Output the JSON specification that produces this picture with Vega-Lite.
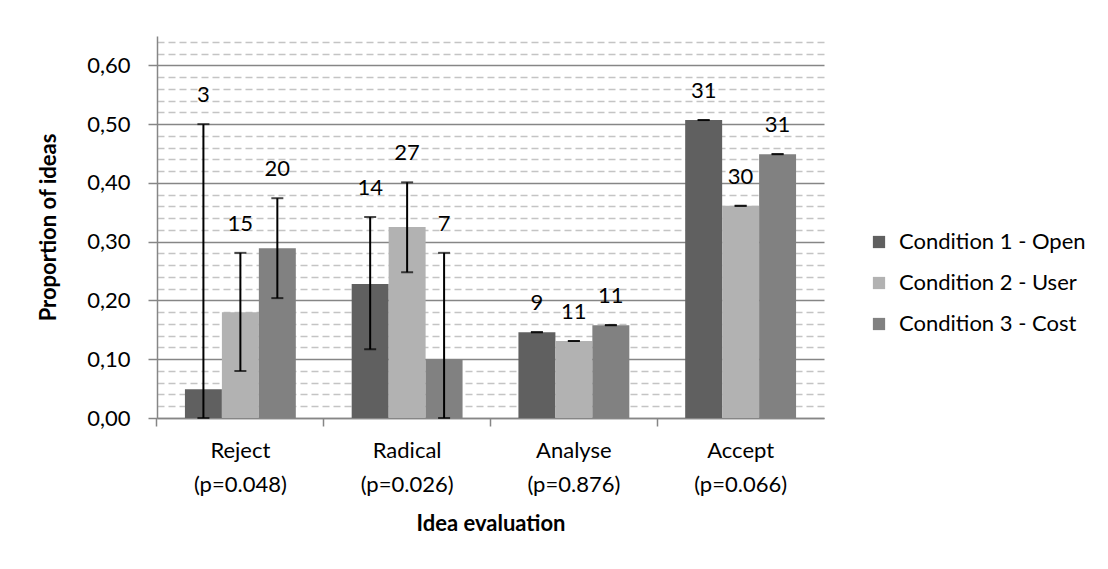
{
  "$schema": "https://vega.github.io/schema/vega-lite/v6.json",
  "autosize": {"type": "none"},
  "padding": {"left": 157, "top": 36, "right": 284, "bottom": 151},
  "width": 667,
  "height": 382,
  "background": "white",
  "config": {
    "view": {"stroke": null},
    "font": "Lato",
    "axis": {"labelFont": "Lato", "titleFont": "Lato", "labelColor": "#000000", "titleColor": "#000000", "labelFontSize": 22, "titleFontSize": 22, "titleFontWeight": "bold", "domainColor": "#868686", "tickColor": "#868686", "domainWidth": 1.5, "tickWidth": 1.5},
    "legend": {"labelFont": "Lato", "labelFontSize": 22, "labelColor": "#000000", "labelLimit": 400}
  },
  "data": {
    "values": [
      {"category": "Reject (p=0.048)", "condition": "Condition 1 - Open", "value": 0.049, "lo": 0.0, "hi": 0.5, "n": "3"},
      {"category": "Reject (p=0.048)", "condition": "Condition 2 - User", "value": 0.18, "lo": 0.08, "hi": 0.281, "n": "15"},
      {"category": "Reject (p=0.048)", "condition": "Condition 3 - Cost", "value": 0.289, "lo": 0.204, "hi": 0.374, "n": "20"},
      {"category": "Radical (p=0.026)", "condition": "Condition 1 - Open", "value": 0.228, "lo": 0.117, "hi": 0.342, "n": "14"},
      {"category": "Radical (p=0.026)", "condition": "Condition 2 - User", "value": 0.325, "lo": 0.248, "hi": 0.401, "n": "27"},
      {"category": "Radical (p=0.026)", "condition": "Condition 3 - Cost", "value": 0.1, "lo": 0.0, "hi": 0.281, "n": "7"},
      {"category": "Analyse (p=0.876)", "condition": "Condition 1 - Open", "value": 0.146, "lo": 0.146, "hi": 0.146, "n": "9"},
      {"category": "Analyse (p=0.876)", "condition": "Condition 2 - User", "value": 0.131, "lo": 0.131, "hi": 0.131, "n": "11"},
      {"category": "Analyse (p=0.876)", "condition": "Condition 3 - Cost", "value": 0.158, "lo": 0.158, "hi": 0.158, "n": "11"},
      {"category": "Accept (p=0.066)", "condition": "Condition 1 - Open", "value": 0.507, "lo": 0.507, "hi": 0.507, "n": "31"},
      {"category": "Accept (p=0.066)", "condition": "Condition 2 - User", "value": 0.361, "lo": 0.361, "hi": 0.361, "n": "30"},
      {"category": "Accept (p=0.066)", "condition": "Condition 3 - Cost", "value": 0.449, "lo": 0.449, "hi": 0.449, "n": "31"}
    ]
  },
  "encoding": {
    "x": {"field": "category", "type": "nominal", "sort": null, "axis": null,
          "scale": {"paddingInner": 0.335, "paddingOuter": 0.1675}},
    "xOffset": {"field": "condition", "type": "nominal", "sort": null, "scale": {"paddingInner": 0, "paddingOuter": 0}}
  },
  "layer": [
    {
      "mark": {"type": "bar"},
      "encoding": {
        "x": {"field": "category", "type": "nominal", "sort": null,
              "scale": {"paddingInner": 0.335, "paddingOuter": 0.1675},
              "axis": {"title": "Idea evaluation", "orient": "bottom", "labelAngle": 0, "ticks": false, "labelPadding": 22, "labelLineHeight": 34, "titlePadding": 18,
                       "labelExpr": "[split(datum.label, ' ')[0], split(datum.label, ' ')[1]]"}},
        "y": {"field": "value", "type": "quantitative", "scale": {"domain": [0, 0.65], "nice": false, "zero": true},
              "axis": {"title": "Proportion of ideas", "values": [0, 0.1, 0.2, 0.3, 0.4, 0.5, 0.6], "grid": true, "gridColor": "#868686", "gridWidth": 1.5,
                       "tickSize": 9, "labelPadding": 18, "titlePadding": 26,
                       "labelExpr": "replace(format(datum.value, '.2f'), '.', ',')"}},
        "color": {"field": "condition", "type": "nominal", "sort": null,
                  "scale": {"domain": ["Condition 1 - Open", "Condition 2 - User", "Condition 3 - Cost"], "range": ["#606060", "#b2b2b2", "#818181"]},
                  "legend": {"title": null, "orient": "none", "legendX": 711, "legendY": 195, "symbolType": "square", "symbolSize": 150, "symbolStrokeWidth": 0, "rowPadding": 19, "labelOffset": 9}}
      }
    },
    {
      "mark": {"type": "rule", "color": "#000000", "strokeWidth": 2},
      "encoding": {
        "x": {"field": "category", "type": "nominal", "sort": null,
              "axis": {"title": null, "orient": "bottom", "labels": false, "ticks": true, "tickSize": 8, "domain": false, "bandPosition": -0.2519}},
        "y": {"field": "lo", "type": "quantitative",
              "axis": {"title": null, "labels": false, "ticks": false, "domain": false, "grid": true, "gridColor": "#c4c4c4", "gridWidth": 1.5, "gridDash": [7, 4],
                       "values": [0.02, 0.04, 0.06, 0.08, 0.12, 0.14, 0.16, 0.18, 0.22, 0.24, 0.26, 0.28, 0.32, 0.34, 0.36, 0.38, 0.42, 0.44, 0.46, 0.48, 0.52, 0.54, 0.56, 0.58, 0.62, 0.64], "orient": "left"}},
        "y2": {"field": "hi"}
      }
    },
    {
      "mark": {"type": "tick", "color": "#000000", "thickness": 2, "size": 12},
      "encoding": {"y": {"field": "hi", "type": "quantitative", "axis": null}}
    },
    {
      "mark": {"type": "tick", "color": "#000000", "thickness": 2, "size": 12},
      "encoding": {"y": {"field": "lo", "type": "quantitative", "axis": null}}
    },
    {
      "mark": {"type": "text", "fontSize": 22, "font": "Lato", "color": "#000000", "baseline": "middle", "dy": -29},
      "encoding": {"y": {"field": "hi", "type": "quantitative", "axis": null}, "text": {"field": "n"}}
    }
  ],
  "resolve": {"axis": {"x": "independent", "y": "independent"}}
}
